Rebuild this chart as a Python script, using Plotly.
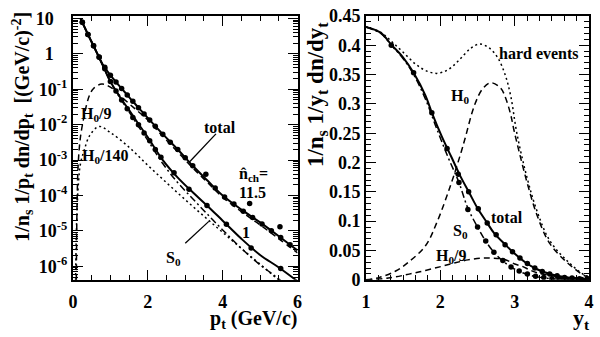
import plotly.graph_objects as go

# ================= LEFT PANEL: p_t spectra (log y) =================
pt_total_hi = [0.2, 0.4, 0.6, 0.8, 1.0, 1.25, 1.5, 1.75, 2.0, 2.4, 2.8, 3.2, 3.6, 4.0, 4.5, 5.0, 5.5, 6.0]
total_hi = [10.0, 3.55, 1.32, 0.49, 0.251, 0.120, 0.0603, 0.0302, 0.0155, 5.4e-3, 2.0e-3,
            6.9e-4, 2.6e-4, 1.0e-4, 4.0e-5, 1.74e-5, 7.1e-6, 2.8e-6]

pt_total_lo = [0.2, 0.4, 0.6, 0.8, 1.0, 1.25, 1.5, 1.75, 2.0, 2.4, 2.8, 3.2, 3.6, 4.0, 4.5, 5.0, 5.5, 6.0]
total_lo = [10.0, 3.55, 1.30, 0.468, 0.166, 0.0617, 0.0257, 0.0105, 4.4e-3, 1.0e-3, 3.2e-4,
            1.23e-4, 5.0e-5, 1.95e-5, 6.0e-6, 2.1e-6, 9.3e-7, 3.8e-7]

pt_s0 = [0.2, 0.4, 0.6, 0.8, 1.0, 1.25, 1.5, 1.75, 2.0, 2.4, 2.8, 3.2, 3.6, 4.0, 4.5, 5.0, 5.5, 6.0]
s0_lo = [10.0, 3.55, 1.30, 0.46, 0.16, 0.058, 0.023, 8.9e-3, 3.6e-3, 8.0e-4, 2.3e-4,
         8.1e-5, 2.9e-5, 1.07e-5, 3.2e-6, 1.1e-6, 4.4e-7, 1.6e-7]

pt_h9 = [0.09, 0.11, 0.14, 0.2, 0.29, 0.37, 0.45, 0.55, 0.77, 1.0, 1.3, 1.66, 2.0, 2.4, 2.8,
         3.2, 3.6, 4.0, 4.5, 5.0, 5.5, 6.0]
h0_9 = [4e-7, 6.3e-5, 7.9e-4, 4.5e-3, 0.0158, 0.039, 0.071, 0.105, 0.141, 0.115, 0.060, 0.028,
        0.0135, 4.7e-3, 1.7e-3, 6.0e-4, 2.3e-4, 8.9e-5, 3.5e-5, 1.48e-5, 6.0e-6, 2.4e-6]

pt_h140 = [0.07, 0.1, 0.15, 0.2, 0.3, 0.45, 0.7, 1.0, 1.5, 2.0, 2.5, 3.0, 3.5, 4.0, 4.5, 5.0, 5.5, 6.0]
h0_140 = [4e-7, 2e-5, 2.5e-4, 7.9e-4, 1.9e-3, 5.0e-3, 8.9e-3, 6.0e-3, 2.3e-3, 7.1e-4, 2.3e-4,
          7.6e-5, 2.6e-5, 9.1e-6, 3.2e-6, 1.15e-6, 4.1e-7, 1.5e-7]

pt_data_hi = [0.25, 0.4, 0.55, 0.7, 0.85, 1.0, 1.15, 1.3, 1.45, 1.6, 1.75, 1.9, 2.05, 2.2, 2.4,
              2.6, 2.8, 3.0, 3.2, 3.55, 3.8, 4.05, 4.3, 4.55, 4.72, 4.8, 5.05, 5.3, 5.53, 5.55, 5.8]
data_hi = [7.8, 3.5, 1.7, 0.81, 0.42, 0.25, 0.16, 0.105, 0.069, 0.046, 0.030, 0.020, 0.0135,
           0.0091, 0.0054, 0.0032, 0.0020, 1.17e-3, 6.9e-4, 4.0e-4, 1.62e-4, 9.1e-5, 5.8e-5,
           3.6e-5, 6.0e-5, 2.4e-5, 1.58e-5, 1.02e-5, 1.32e-5, 6.5e-6, 4.1e-6]

pt_data_lo = [0.25, 0.4, 0.55, 0.7, 0.85, 1.0, 1.15, 1.3, 1.45, 1.6, 1.75, 1.9, 2.05, 2.2, 2.35,
              2.7, 3.1, 3.58, 4.1, 4.76, 5.55]
data_lo = [7.8, 3.5, 1.7, 0.80, 0.38, 0.166, 0.09, 0.05, 0.028, 0.016, 0.010, 0.0058, 0.0035,
           0.0020, 1.2e-3, 4.4e-4, 1.5e-4, 5.2e-5, 1.55e-5, 3.3e-6, 8.7e-7]

log_tick_vals = [1e-6, 1e-5, 1e-4, 1e-3, 1e-2, 1e-1, 1, 10]
PAD = "\u00a0\u00a0\u00a0"
log_tick_text = ["10<sup>-6</sup>", "10<sup>-5</sup>", "10<sup>-4</sup>", "10<sup>-3</sup>",
                 "10<sup>-2</sup>", "10<sup>-1</sup>", "1" + PAD, "10" + PAD]

# ================= RIGHT PANEL: y_t distributions =================
yt_total = [1.0, 1.2, 1.34, 1.5, 1.64, 1.8, 1.885, 2.02, 2.15, 2.26, 2.39, 2.5, 2.63, 2.72, 2.88,
            2.97, 3.14, 3.3, 3.5, 3.83, 4.0]
r_total = [0.431, 0.421, 0.401, 0.379, 0.353, 0.314, 0.285, 0.244, 0.209, 0.179, 0.148, 0.122,
           0.097, 0.080, 0.059, 0.048, 0.030, 0.018, 0.009, 0.002, 0.001]

yt_s0 = [1.0, 1.2, 1.34, 1.5, 1.64, 1.8, 1.95, 2.1, 2.25, 2.37, 2.5, 2.61, 2.72, 2.85, 3.0, 3.15,
         3.3, 3.5, 3.7, 4.0]
r_s0 = [0.431, 0.420, 0.400, 0.377, 0.350, 0.308, 0.258, 0.210, 0.166, 0.122, 0.090, 0.066,
        0.047, 0.031, 0.018, 0.010, 0.005, 0.002, 0.0008, 0.0001]

yt_hard = [1.0, 1.2, 1.355, 1.5, 1.665, 1.8, 1.95, 2.1, 2.24, 2.4, 2.525, 2.65, 2.77, 2.87, 2.945,
           3.03, 3.17, 3.3, 3.47, 3.7, 3.94, 4.0]
r_hard = [0.431, 0.422, 0.405, 0.388, 0.368, 0.357, 0.352, 0.358, 0.373, 0.394, 0.402, 0.396,
          0.379, 0.350, 0.314, 0.249, 0.172, 0.117, 0.067, 0.033, 0.008, 0.006]

yt_h0 = [1.0, 1.18, 1.4, 1.58, 1.8, 1.96, 2.15, 2.28, 2.33, 2.46, 2.57, 2.68, 2.81, 2.88, 2.945,
         2.99, 3.06, 3.17, 3.3, 3.47, 3.7, 3.94, 4.0]
r_h0 = [0.0, 0.004, 0.015, 0.031, 0.058, 0.100, 0.166, 0.218, 0.240, 0.298, 0.326, 0.336, 0.327,
        0.309, 0.282, 0.255, 0.218, 0.164, 0.110, 0.062, 0.030, 0.007, 0.005]

yt_h9 = [1.0, 1.3, 1.58, 1.8, 2.02, 2.2, 2.37, 2.55, 2.68, 2.81, 2.9, 3.0, 3.1, 3.2, 3.3, 3.5,
         3.7, 4.0]
r_h9 = [0.0, 0.003, 0.0097, 0.016, 0.023, 0.029, 0.034, 0.037, 0.037, 0.036, 0.033, 0.027,
        0.023, 0.017, 0.012, 0.007, 0.0035, 0.0006]

yt_data_tot = [1.34, 1.64, 1.885, 2.09, 2.24, 2.38, 2.51, 2.63, 2.75, 2.87, 2.97, 3.07, 3.17, 3.27,
               3.37, 3.47, 3.57, 3.67, 3.77, 3.87, 3.97]
r_data_tot = [0.400, 0.353, 0.285, 0.224, 0.180, 0.150, 0.121, 0.097, 0.077, 0.060, 0.048, 0.037,
              0.028, 0.020, 0.014, 0.010, 0.007, 0.004, 0.003, 0.002, 0.001]

yt_data_s0 = [2.25, 2.37, 2.5, 2.61, 2.72, 2.84, 2.95, 3.06, 3.17, 3.28, 3.39, 3.5, 3.6, 3.7, 3.8, 3.9]
r_data_s0 = [0.166, 0.120, 0.090, 0.066, 0.047, 0.033, 0.022, 0.015, 0.010, 0.006, 0.004, 0.002,
             0.0015, 0.001, 0.0006, 0.0004]

# ================= figure =================
FONT = "Liberation Serif"
BLACK = "black"
fig = go.Figure()


def line(x, y, xa, ya, dash="solid", width=1.6):
    fig.add_trace(go.Scatter(x=x, y=y, xaxis=xa, yaxis=ya, mode="lines",
                             line=dict(color=BLACK, width=width, dash=dash, shape="spline"),
                             showlegend=False, hoverinfo="skip"))


def dots(x, y, xa, ya):
    fig.add_trace(go.Scatter(x=x, y=y, xaxis=xa, yaxis=ya, mode="markers",
                             marker=dict(color=BLACK, size=5.5),
                             showlegend=False, hoverinfo="skip"))


# left curves
line(pt_h140, h0_140, "x", "y", dash="2px,3px", width=1.5)
line(pt_h9, h0_9, "x", "y", dash="6px,4px", width=1.5)
line(pt_s0, s0_lo, "x", "y", dash="7px,3px,2px,3px", width=1.5)
line(pt_total_lo, total_lo, "x", "y", width=2)
line(pt_total_hi, total_hi, "x", "y", width=2)
dots(pt_data_hi, data_hi, "x", "y")
dots(pt_data_lo, data_lo, "x", "y")
# pointer lines
line([3.82, 3.105], [5.5e-3, 8.7e-4], "x", "y", width=1.3)
line([3.0, 3.63], [4.5e-6, 1.86e-5], "x", "y", width=1.3)

# right curves
line(yt_hard, r_hard, "x2", "y2", dash="2px,3px", width=1.5)
line(yt_h0, r_h0, "x2", "y2", dash="6px,4px", width=1.5)
line(yt_h9, r_h9, "x2", "y2", dash="6px,4px", width=1.5)
line(yt_s0, r_s0, "x2", "y2", dash="7px,3px,2px,3px", width=1.5)
line(yt_total, r_total, "x2", "y2", width=2)
dots(yt_data_tot, r_data_tot, "x2", "y2")
dots(yt_data_s0, r_data_s0, "x2", "y2")

W, H = 600, 337
Y_TOP, Y_BOT = 7, 287
ydom = [1 - Y_BOT / H, 1 - Y_TOP / H]
tickfont = dict(family=FONT, size=18, color=BLACK, weight="bold")
axis_common = dict(showline=True, linecolor=BLACK, linewidth=2, mirror="allticks",
                   ticks="inside", ticklen=10, tickwidth=1, tickcolor=BLACK,
                   showgrid=False, zeroline=False, tickfont=tickfont)

minor_log = []
for dec in [1e-7, 1e-6, 1e-5, 1e-4, 1e-3, 1e-2, 1e-1, 1]:
    for k in range(2, 10):
        minor_log.append(k * dec)

fig.update_layout(
    width=W, height=H, margin=dict(l=0, r=0, t=0, b=0),
    paper_bgcolor="white", plot_bgcolor="white",
    xaxis=dict(domain=[69 / W, 297 / W], range=[0, 6], anchor="y",
               tickvals=[0, 2, 4, 6], ticktext=["0", "2", "4", "6"], ticklabelstandoff=5,
               minor=dict(ticks="inside", ticklen=5, dtick=0.5, tick0=0, tickcolor=BLACK),
               **axis_common),
    yaxis=dict(domain=ydom, type="log", range=[-6.38, 1.08], anchor="x",
               tickvals=log_tick_vals, ticktext=log_tick_text, ticklabelstandoff=0,
               minor=dict(ticks="inside", ticklen=5, tickmode="array", tickvals=minor_log,
                          tickcolor=BLACK),
               **axis_common),
    xaxis2=dict(domain=[366.5 / W, 593 / W], range=[1, 4], anchor="y2",
                tickvals=[1, 2, 3, 4], ticktext=["1", "2", "3", "4"], ticklabelstandoff=5,
                minor=dict(ticks="inside", ticklen=5, dtick=1 / 6, tick0=1, tickcolor=BLACK),
                **axis_common),
    yaxis2=dict(domain=ydom, range=[0, 0.4505], anchor="x2",
                tickvals=[0, 0.05, 0.1, 0.15, 0.2, 0.25, 0.3, 0.35, 0.4, 0.45],
                ticktext=["0", "0.05", "0.1", "0.15", "0.2", "0.25", "0.3", "0.35", "0.4", "0.45"],
                minor=dict(ticks="inside", ticklen=5, dtick=0.01, tick0=0, tickcolor=BLACK),
                **axis_common),
)

ann = []


def txt(text, x, y, xref, yref, size=16, **kw):
    d = dict(text=text, x=x, y=y, xref=xref, yref=yref, showarrow=False, borderpad=0,
             font=dict(family=FONT, size=size, color=BLACK, weight="bold"))
    d.update(kw)
    ann.append(d)


# axis titles
txt("1/n<sub>s</sub> 1/p<sub>t</sub> dn/dp<sub>t</sub>  [(GeV/c)<sup>-2</sup>]",
    18 / W, 1 - 125 / H, "paper", "paper", size=20, textangle=-90,
    xanchor="center", yanchor="middle")
txt("1/n<sub>s</sub> 1/y<sub>t</sub> dn/dy<sub>t</sub>",
    317 / W, 1 - 91 / H, "paper", "paper", size=23, textangle=-90,
    xanchor="center", yanchor="middle")
txt("p<sub>t</sub> (GeV/c)", 297 / W, 1 - 329 / H, "paper", "paper", size=20,
    xanchor="right", yanchor="middle")
txt("y<sub>t</sub>", 595 / W, 1 - 329 / H, "paper", "paper", size=22,
    xanchor="right", yanchor="middle")

# left panel labels (y in log10 units)
txt("H<sub>0</sub>/9", 0.63, -1.70, "x", "y")
txt("H<sub>0</sub>/140", 0.87, -2.90, "x", "y")
txt("total", 3.92, -2.07, "x", "y")
txt("n\u0302<sub>ch</sub>=", 4.83, -3.40, "x", "y")
txt("11.5", 4.80, -3.92, "x", "y")
txt("1", 4.62, -5.03, "x", "y")
txt("S<sub>0</sub>", 2.68, -5.77, "x", "y")

# right panel labels
txt("hard events", 3.32, 0.386, "x2", "y2")
txt("H<sub>0</sub>", 2.26, 0.313, "x2", "y2")
txt("total", 2.89, 0.107, "x2", "y2")
txt("S<sub>0</sub>", 2.27, 0.082, "x2", "y2")
txt("H<sub>0</sub>/9", 2.15, 0.040, "x2", "y2")

fig.update_layout(annotations=ann)
fig.write_html("out.html")
